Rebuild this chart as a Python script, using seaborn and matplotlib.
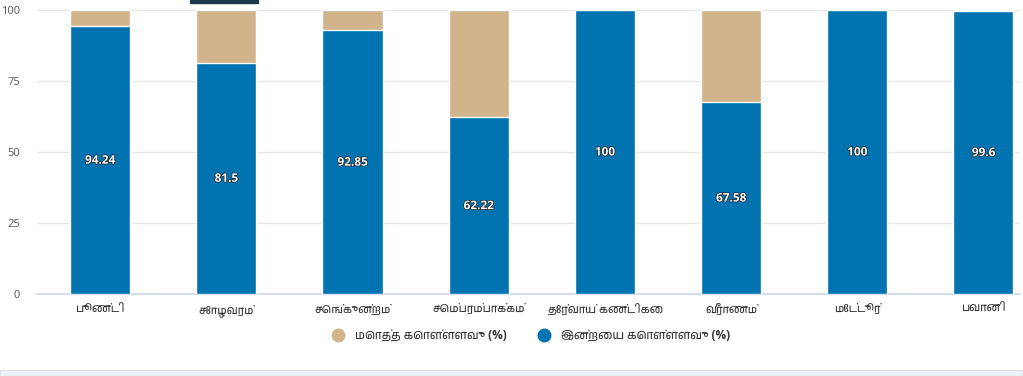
import matplotlib
matplotlib.use('Agg')
import matplotlib.pyplot as plt
from matplotlib import font_manager
from matplotlib.lines import Line2D
from matplotlib.patches import Rectangle
import matplotlib.patheffects as pe
import seaborn as sns
import pandas as pd

# reservoir names and storage (%)
reservoirs = ['பூண்டி', 'சோழவரம்', 'செங்குன்றம்', 'செம்பரம்பாக்கம்',
              'தேர்வாய் கண்டிகை', 'வீராணம்', 'மேட்டூர்', 'பவானி']
today_pct = [94.24, 81.5, 92.85, 62.22, 100, 67.58, 100, 99.6]
total_pct = [100, 100, 100, 100, 100, 100, 100, 100]
legend_labels = ['மொத்த கொள்ளளவு (%)', 'இன்றைய கொள்ளளவு (%)']
y_ticks = [0, 25, 50, 75, 100]

BLUE = '#0073b0'
TAN = '#d2b48c'

sns.set_style('white')

# latin font first, then any font that can draw tamil
tamil = [f.name for f in font_manager.fontManager.ttflist
         if 'tamil' in f.name.lower() or 'lohit' in f.name.lower()]
families = ['Open Sans'] + sorted(set(tamil)) + ['DejaVu Sans']
plt.rcParams['font.family'] = families

df = pd.DataFrame({'name': reservoirs, 'today': today_pct, 'total': total_pct})

fig = plt.figure(figsize=(10.23, 3.76), dpi=100)
ax = fig.add_axes([37 / 1023, 82 / 376, 983 / 1023, 284 / 376])

sns.barplot(data=df, x='name', y='total', color=TAN, width=0.476,
            edgecolor='white', linewidth=1, saturation=1, ax=ax, zorder=2)
sns.barplot(data=df, x='name', y='today', color=BLUE, width=0.476,
            edgecolor='white', linewidth=1, saturation=1, ax=ax, zorder=3)

# value labels in the middle of the blue bars
for i, v in enumerate(today_pct):
    ax.text(i, v / 2, '{:g}'.format(v), ha='center', va='center',
            color='white', fontsize=8.5, fontweight='bold', zorder=4,
            path_effects=[pe.withStroke(linewidth=1.0, foreground='#222222')])

ax.set_xlim(-0.5, 7.29)
ax.set_ylim(0, 100)
ax.set_yticks(y_ticks)
ax.set_xlabel('')
ax.set_ylabel('')
ax.grid(axis='y', color='#e6e6e6', linewidth=1, zorder=0)
ax.set_axisbelow(True)
for s in ['top', 'right', 'left']:
    ax.spines[s].set_visible(False)
ax.spines['bottom'].set_color('#ccd6eb')
ax.spines['bottom'].set_linewidth(1.2)
ax.tick_params(axis='both', length=0, labelsize=8, colors='#555555', pad=7)
ax.tick_params(axis='y', pad=12)
for lab in ax.get_xticklabels():
    lab.set_color('#333333')

handles = [Line2D([], [], marker='o', linestyle='', markersize=9, color=c)
           for c in [TAN, BLUE]]
leg = fig.legend(handles, legend_labels, loc='center',
                 bbox_to_anchor=(528 / 1023, 1 - 336 / 376), ncol=2, frameon=False,
                 fontsize=8.5, handletextpad=0.4, columnspacing=2.2)
for t in leg.get_texts():
    t.set_color('#333333')
    t.set_fontweight('bold')

# small dark tab at the top and grey strip at the bottom of the page
fig.patches.append(Rectangle((190 / 1023, 1 - 3 / 376), 68 / 1023, 3 / 376,
                             transform=fig.transFigure, color='#1b3a4b'))
fig.patches.append(Rectangle((0, 0), 1, 6 / 376, transform=fig.transFigure,
                             facecolor='#eef1f5', edgecolor='#dfe3e8', linewidth=1))

fig.savefig('out.png', dpi=100)
